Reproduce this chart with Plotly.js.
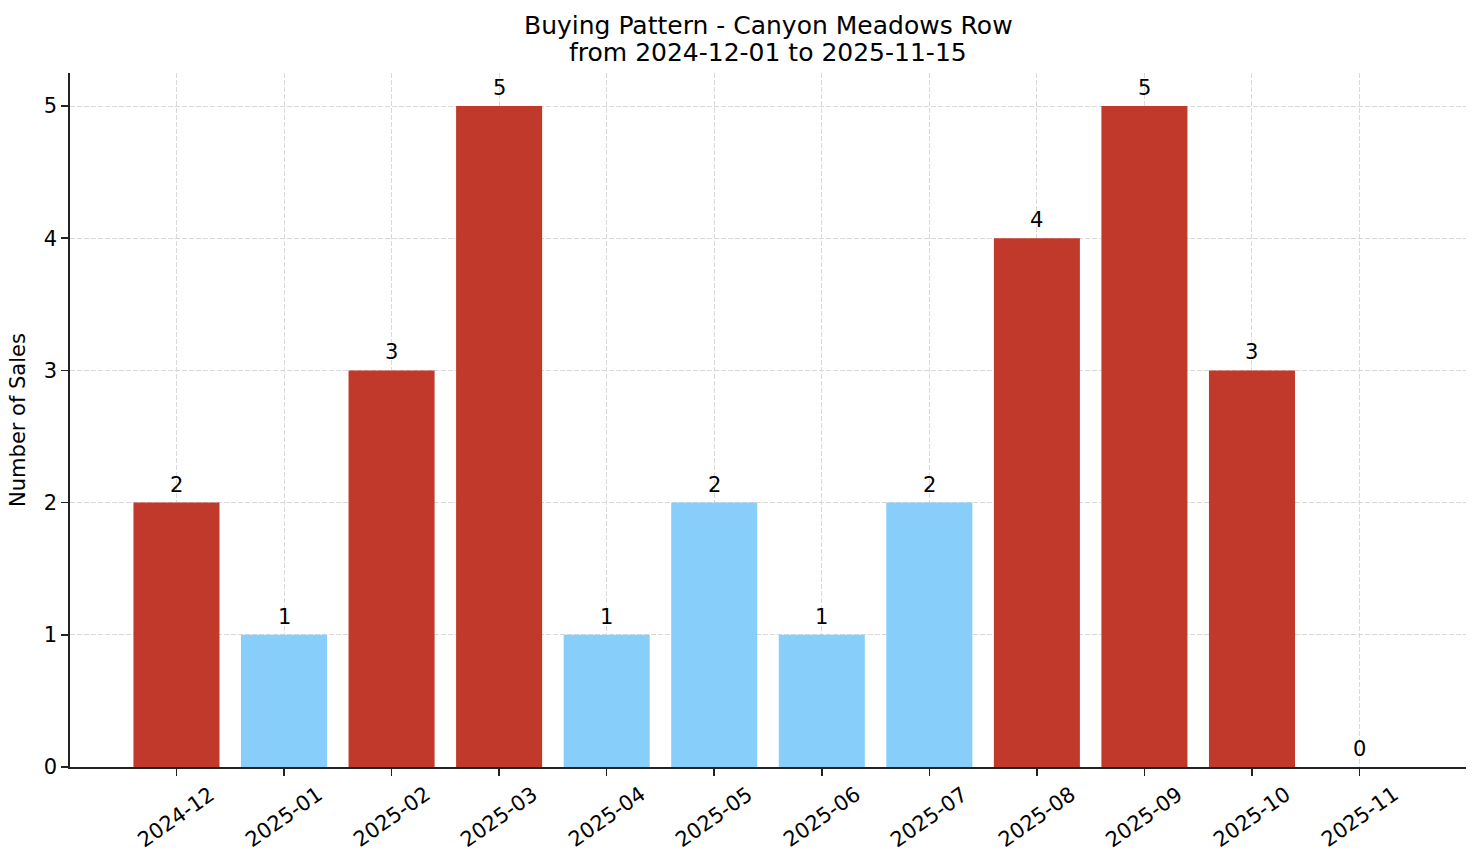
<!DOCTYPE html>
<html>
<head>
<meta charset="utf-8">
<script src="https://cdn.plot.ly/plotly-3.0.1.min.js"></script>
<style>
  html, body { margin: 0; padding: 0; background: #fff; }
  #chart { width: 1481px; height: 863px; }
</style>
</head>
<body>
<div id="chart"></div>
<script>
// ── Data ─────────────────────────────────────────────────────────────
const months = ['2024-12', '2025-01', '2025-02', '2025-03', '2025-04', '2025-05',
                '2025-06', '2025-07', '2025-08', '2025-09', '2025-10', '2025-11'];
const sales = [2, 1, 3, 5, 1, 2, 1, 2, 4, 5, 3, 0];
// months drawn in the highlight colour in the original
const highlighted = [true, false, true, true, false, false,
                     false, false, true, true, true, false];
const yTicks = [0, 1, 2, 3, 4, 5];
const titleLines = ['Buying Pattern - Canyon Meadows Row', 'from 2024-12-01 to 2025-11-15'];

// ── Styling ──────────────────────────────────────────────────────────
const HIGH = '#c0392b';
const LOW = '#87cefa';
const FONT = 'DejaVu Sans, sans-serif';
const TEXT_SIZE = 21;

const barTrace = {
    type: 'bar',
    x: months,
    y: sales,
    width: 0.8,
    marker: { color: highlighted.map(h => h ? HIGH : LOW), line: { width: 0 } },
    hoverinfo: 'skip'
};

// value above each bar
const valueLabels = months.map((m, i) => ({
    x: m, y: sales[i],
    xref: 'x', yref: 'y',
    text: String(sales[i]),
    showarrow: false,
    yanchor: 'bottom',
    yshift: 4,
    font: { family: FONT, size: TEXT_SIZE, color: '#000' }
}));

// rotated month labels, centred under each tick (matplotlib style)
const monthLabels = months.map(m => ({
    x: m, y: 0,
    xref: 'x', yref: 'paper',
    text: m,
    textangle: -35,
    showarrow: false,
    xanchor: 'center',
    yanchor: 'top',
    yshift: -12,
    font: { family: FONT, size: TEXT_SIZE, color: '#000' }
}));

// two-line title, placed line by line
const titleAnnots = titleLines.map((t, i) => ({
    x: 0.5, y: 1,
    xref: 'paper', yref: 'paper',
    text: t,
    showarrow: false,
    xanchor: 'center',
    yanchor: 'bottom',
    yshift: i === 0 ? 31 : 4,
    font: { family: FONT, size: 25, color: '#000' }
}));

const gridStyle = {
    showgrid: true,
    gridcolor: '#d9d9d9',
    griddash: '5px,2px',
    gridwidth: 1
};

const layout = {
    width: 1481,
    height: 863,
    margin: { l: 70, r: 15, t: 73, b: 96 },
    paper_bgcolor: '#fff',
    plot_bgcolor: '#fff',
    font: { family: FONT, color: '#000' },
    showlegend: false,
    xaxis: Object.assign({
        type: 'category',
        range: [-0.99, 11.99],
        showticklabels: false,
        ticks: 'outside',
        ticklen: 7,
        tickwidth: 1.6,
        tickcolor: '#222',
        showline: true,
        linecolor: '#222',
        linewidth: 1.7,
        zeroline: false
    }, gridStyle),
    yaxis: Object.assign({
        range: [0, 5.25],
        tickmode: 'array',
        tickvals: yTicks,
        ticktext: yTicks.map(String),
        ticks: 'outside',
        ticklen: 7,
        tickwidth: 1.6,
        tickcolor: '#222',
        tickfont: { family: FONT, size: TEXT_SIZE, color: '#000' },
        showline: true,
        linecolor: '#222',
        linewidth: 1.7,
        zeroline: false,
        title: { text: 'Number of Sales', font: { family: FONT, size: TEXT_SIZE, color: '#000' }, standoff: 12 }
    }, gridStyle),
    annotations: valueLabels.concat(monthLabels, titleAnnots)
};

Plotly.newPlot('chart', [barTrace], layout, { displayModeBar: false, staticPlot: true });
</script>
</body>
</html>
